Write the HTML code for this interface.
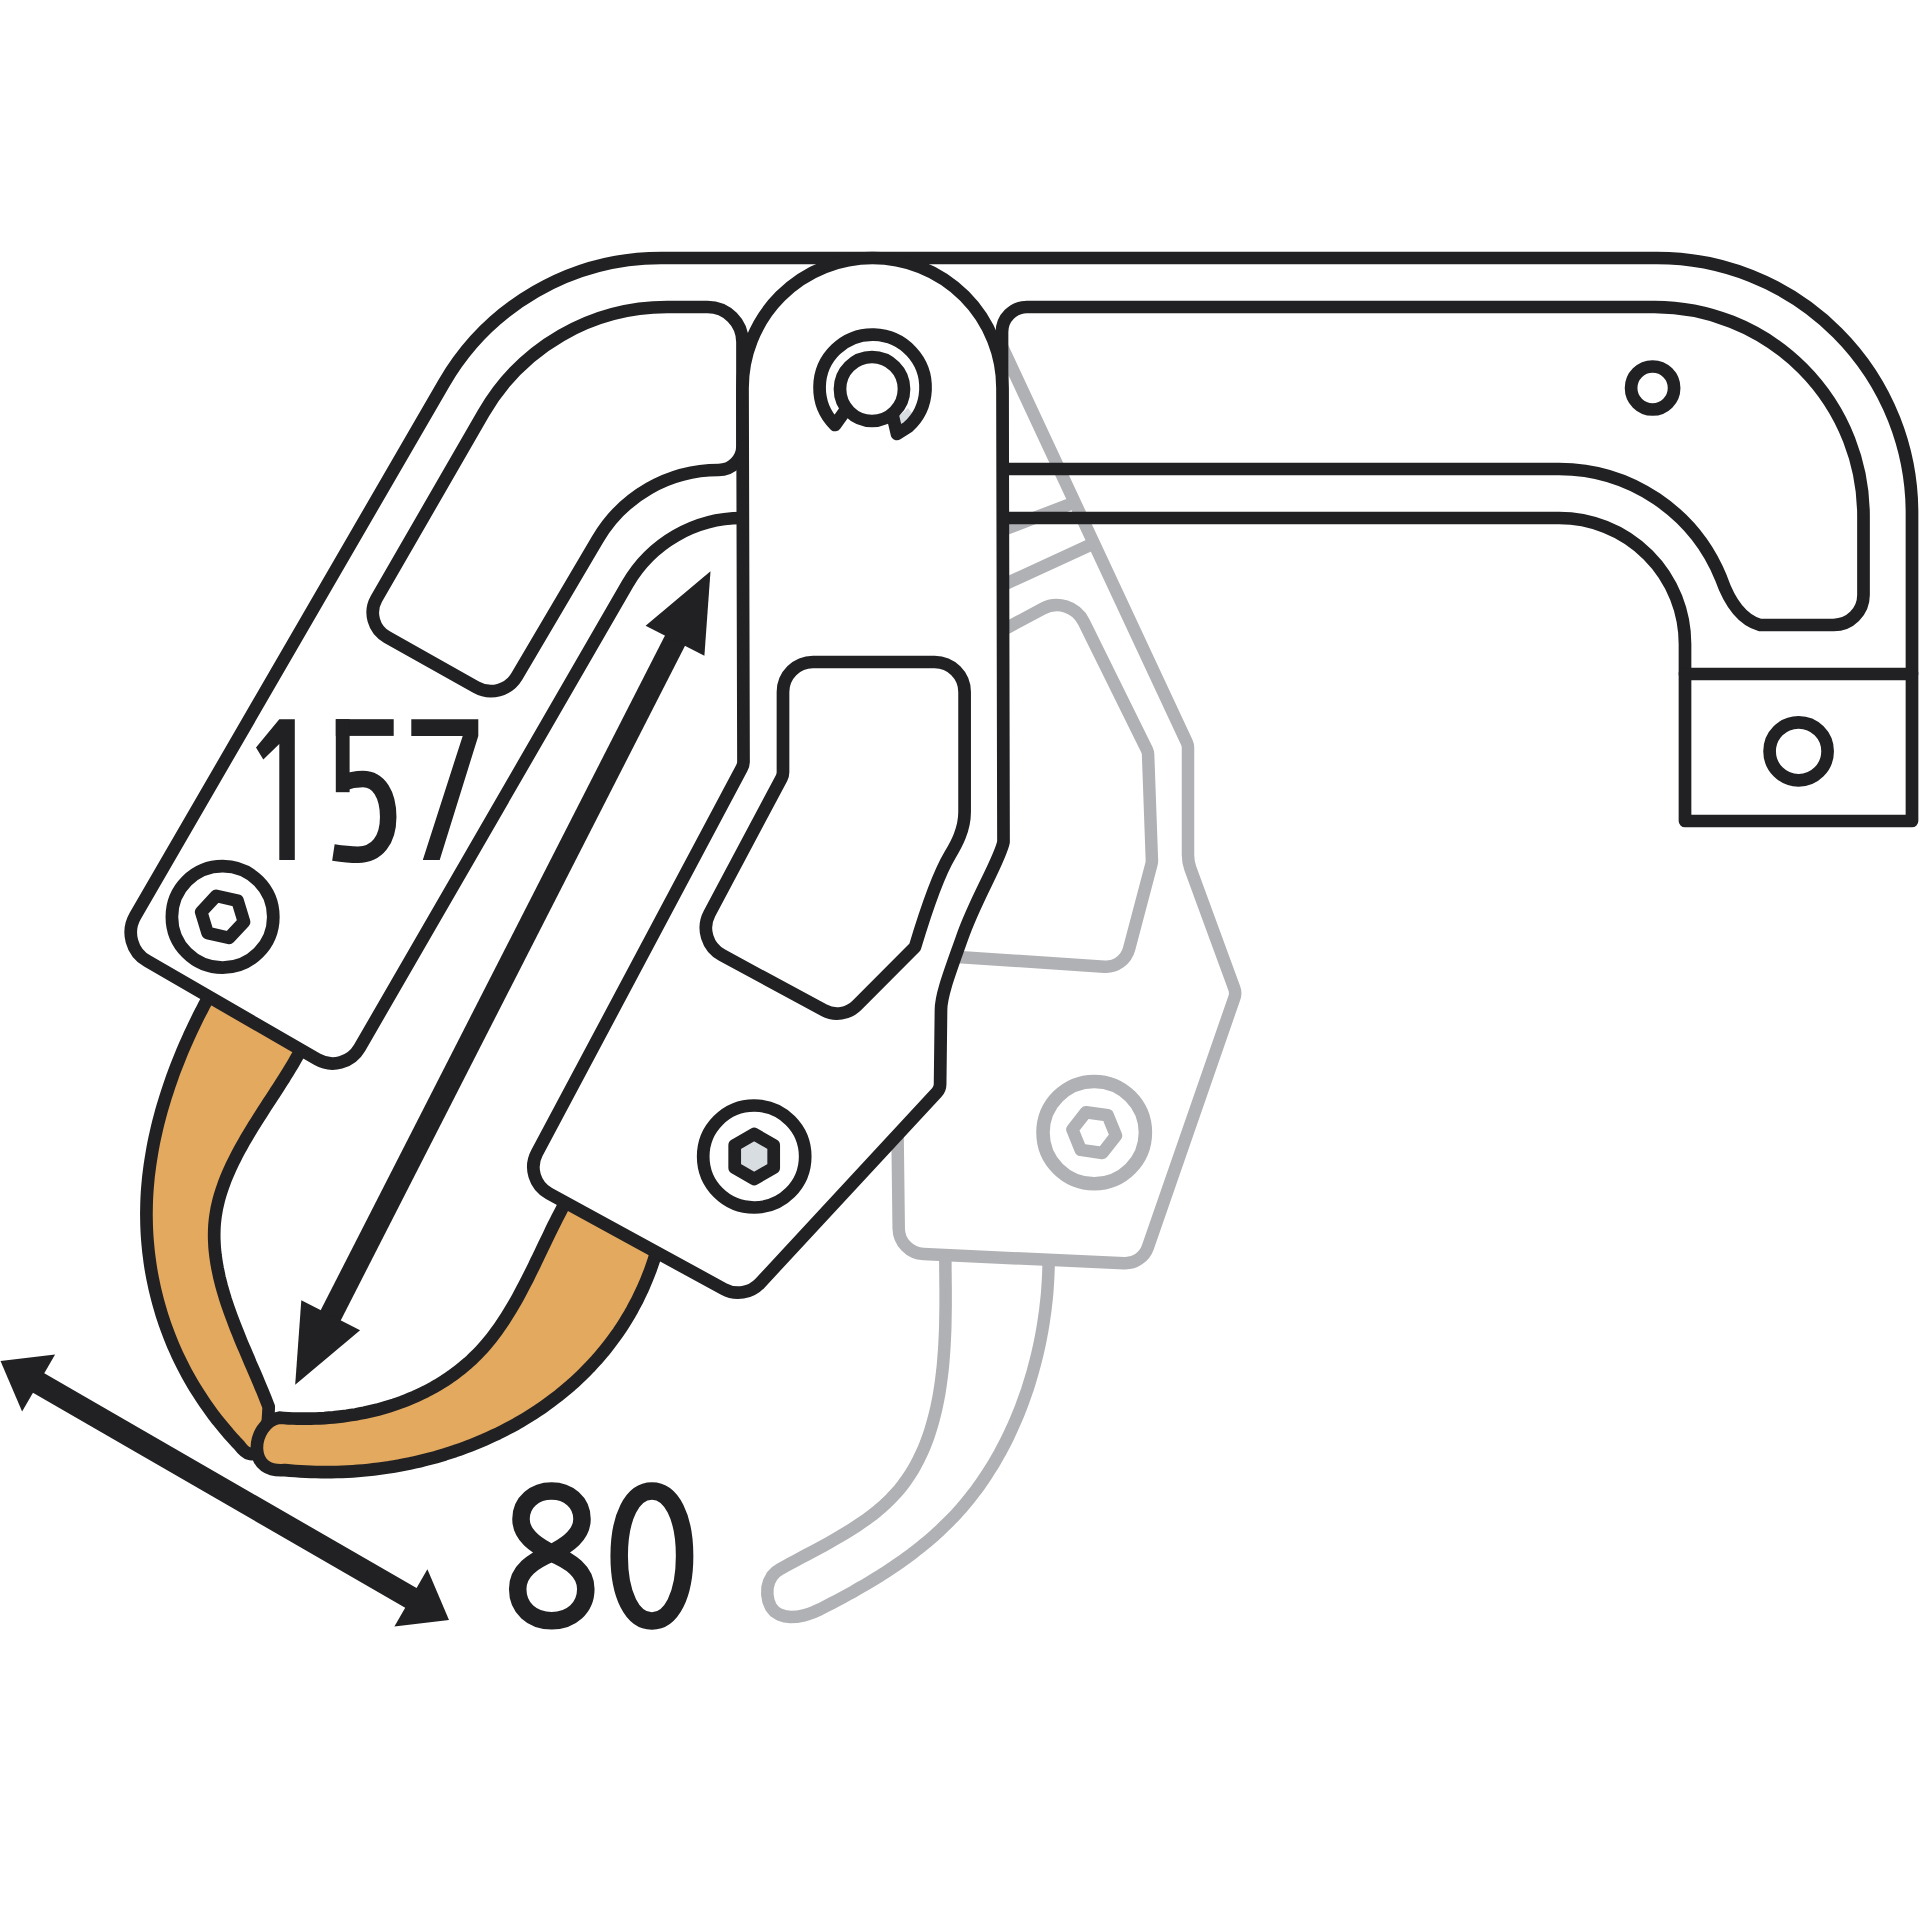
<!DOCTYPE html>
<html><head><meta charset="utf-8"><title>diagram</title><style>
html,body{margin:0;padding:0;background:#fff;width:1920px;height:1920px;overflow:hidden}
svg{display:block}
</style></head><body>
<svg xmlns="http://www.w3.org/2000/svg" width="1920" height="1920" viewBox="0 0 1920 1920"><path d="M215,985 L208.7,996.9 L206.1,1001.6 L203.6,1006.3 L201.2,1011.1 L198.7,1015.8 L196.3,1020.7 L194.0,1025.5 L191.7,1030.4 L189.4,1035.3 L187.2,1040.3 L185.0,1045.2 L182.8,1050.2 L180.7,1055.3 L178.7,1060.3 L176.7,1065.4 L174.7,1070.5 L172.8,1075.6 L171.0,1080.8 L169.2,1086.0 L167.5,1091.2 L165.8,1096.4 L164.2,1101.6 L162.6,1106.9 L161.1,1112.1 L159.7,1117.4 L158.3,1122.7 L157.0,1128.0 L155.8,1133.4 L154.6,1138.7 L153.5,1144.1 L152.5,1149.4 L151.6,1154.8 L150.7,1160.2 L149.9,1165.5 L149.2,1170.9 L148.5,1176.3 L148.0,1181.7 L147.5,1187.1 L147.1,1192.5 L146.8,1197.9 L146.6,1203.3 L146.5,1208.7 L146.4,1214.1 L146.5,1219.5 L146.6,1224.9 L146.8,1230.2 L147.1,1235.6 L147.5,1241.0 L148.0,1246.3 L148.5,1251.7 L149.2,1257.0 L149.9,1262.4 L150.7,1267.7 L151.6,1273.0 L152.6,1278.2 L153.7,1283.5 L154.8,1288.8 L156.1,1294.0 L157.4,1299.2 L158.8,1304.4 L160.3,1309.6 L161.8,1314.7 L163.5,1319.8 L165.2,1324.9 L167.1,1330.0 L169.0,1335.1 L171.0,1340.1 L173.0,1345.1 L175.2,1350.0 L177.4,1355.0 L179.8,1359.9 L182.2,1364.8 L184.7,1369.6 L187.2,1374.4 L189.9,1379.2 L192.6,1383.9 L195.5,1388.6 L198.4,1393.2 L201.4,1397.8 L204.4,1402.4 L207.6,1406.9 L210.8,1411.4 L214.1,1415.9 L217.5,1420.3 L221.0,1424.6 L224.6,1428.9 L228.2,1433.2 L231.9,1437.4 L235.7,1441.6 L239.6,1445.7 C245.6,1453.7 252,1458 261,1449 C267,1442 268,1425 268.7,1406.9 L268.7,1406.9 L267.2,1403.0 L265.7,1399.1 L264.1,1395.1 L262.5,1391.2 L260.8,1387.2 L259.1,1383.1 L257.4,1379.1 L255.7,1375.0 L253.9,1370.9 L252.1,1366.8 L250.3,1362.7 L248.6,1358.5 L246.8,1354.3 L245.0,1350.1 L243.2,1345.9 L241.4,1341.7 L239.7,1337.5 L238.0,1333.2 L236.3,1329.0 L234.6,1324.7 L233.0,1320.4 L231.4,1316.1 L229.8,1311.8 L228.3,1307.5 L226.8,1303.2 L225.4,1298.9 L224.1,1294.5 L222.8,1290.2 L221.6,1285.9 L220.5,1281.5 L219.4,1277.2 L218.5,1272.8 L217.6,1268.5 L216.8,1264.2 L216.1,1259.8 L215.5,1255.5 L215.0,1251.1 L214.6,1246.8 L214.4,1242.5 L214.2,1238.2 L214.2,1233.9 L214.3,1229.6 L214.5,1225.3 L214.9,1221.0 L215.4,1216.7 L216.1,1212.5 L216.8,1208.2 L217.8,1204.0 L218.8,1199.8 L220.0,1195.6 L221.3,1191.4 L222.7,1187.2 L224.2,1183.0 L225.8,1178.8 L227.5,1174.7 L229.3,1170.6 L231.2,1166.4 L233.2,1162.3 L235.2,1158.3 L237.3,1154.2 L239.5,1150.1 L241.7,1146.1 L244.0,1142.0 L246.3,1138.0 L248.7,1134.0 L251.1,1130.0 L253.5,1126.0 L256.0,1122.1 L258.5,1118.1 L261.0,1114.2 L263.5,1110.3 L266.0,1106.4 L268.5,1102.5 L271.0,1098.7 L273.6,1094.8 L276.0,1091.0 L278.5,1087.2 L280.9,1083.4 L283.4,1079.6 L285.7,1075.8 L288.0,1072.1 L290.3,1068.3 L292.6,1064.6 L294.7,1060.9 L296.8,1057.2 L298.9,1053.6 L300.8,1049.9 L302.7,1046.3 L304.5,1042.7 L312,1030 L280,1010 Z" fill="#e3a95e" stroke="#212124" stroke-width="12.7" stroke-linejoin="round"/>
<path d="M575,1190 L565.3,1202.8 L563.2,1206.4 L561.3,1210.2 L559.3,1214.0 L557.3,1217.8 L555.4,1221.6 L553.4,1225.5 L551.5,1229.4 L549.6,1233.4 L547.7,1237.4 L545.8,1241.3 L543.8,1245.3 L541.9,1249.4 L540.0,1253.4 L538.1,1257.4 L536.1,1261.4 L534.2,1265.5 L532.2,1269.5 L530.2,1273.5 L528.2,1277.6 L526.2,1281.6 L524.1,1285.5 L522.0,1289.5 L519.9,1293.5 L517.8,1297.4 L515.6,1301.3 L513.4,1305.1 L511.1,1309.0 L508.8,1312.8 L506.5,1316.5 L504.1,1320.2 L501.7,1323.9 L499.2,1327.5 L496.7,1331.0 L494.1,1334.5 L491.5,1338.0 L488.8,1341.3 L486.0,1344.6 L483.2,1347.9 L480.3,1351.0 L477.3,1354.1 L474.3,1357.1 L471.2,1360.1 L468.1,1362.9 L464.8,1365.7 L461.6,1368.4 L458.2,1371.0 L454.8,1373.6 L451.4,1376.1 L447.9,1378.5 L444.3,1380.9 L440.7,1383.1 L437.1,1385.3 L433.3,1387.5 L429.6,1389.5 L425.8,1391.5 L421.9,1393.4 L418.0,1395.2 L414.1,1397.0 L410.1,1398.7 L406.1,1400.3 L402.1,1401.9 L398.0,1403.4 L393.9,1404.8 L389.7,1406.1 L385.5,1407.4 L381.3,1408.6 L377.1,1409.8 L372.8,1410.8 L368.5,1411.8 L364.2,1412.8 L359.8,1413.6 L355.5,1414.4 L351.1,1415.1 L346.7,1415.8 L342.2,1416.4 L337.8,1416.9 L333.3,1417.4 L328.9,1417.7 L324.4,1418.1 L319.9,1418.3 L315.4,1418.5 L310.9,1418.6 L306.4,1418.7 L301.8,1418.7 L297.3,1418.6 L292.8,1418.5 L288.3,1418.3 L283.7,1418.0 L279.2,1417.7 C265.2,1419.7 256,1436 257,1450 C258,1464 268,1471.5 284.9,1470.1 L284.9,1470.1 L290.0,1470.6 L295.2,1471.0 L300.4,1471.4 L305.6,1471.7 L310.8,1471.9 L316.0,1472.0 L321.3,1472.1 L326.5,1472.2 L331.7,1472.1 L336.9,1472.0 L342.2,1471.8 L347.4,1471.6 L352.6,1471.3 L357.9,1470.9 L363.1,1470.5 L368.3,1470.0 L373.5,1469.4 L378.7,1468.7 L383.9,1468.0 L389.1,1467.3 L394.2,1466.4 L399.4,1465.5 L404.5,1464.5 L409.7,1463.5 L414.8,1462.4 L419.9,1461.2 L425.0,1459.9 L430.0,1458.6 L435.1,1457.3 L440.1,1455.8 L445.1,1454.3 L450.0,1452.7 L455.0,1451.1 L459.9,1449.4 L464.8,1447.6 L469.7,1445.8 L474.5,1443.9 L479.3,1441.9 L484.1,1439.9 L488.8,1437.8 L493.5,1435.6 L498.2,1433.4 L502.8,1431.1 L507.4,1428.7 L511.9,1426.3 L516.5,1423.8 L520.9,1421.2 L525.3,1418.6 L529.7,1415.9 L534.1,1413.1 L538.4,1410.3 L542.6,1407.4 L546.8,1404.4 L550.9,1401.4 L555.0,1398.3 L559.1,1395.2 L563.1,1391.9 L567.0,1388.6 L570.9,1385.3 L574.7,1381.9 L578.5,1378.4 L582.2,1374.9 L585.8,1371.2 L589.4,1367.6 L592.9,1363.8 L596.4,1360.0 L599.8,1356.1 L603.1,1352.2 L606.3,1348.2 L609.5,1344.1 L612.6,1340.0 L615.7,1335.8 L618.7,1331.6 L621.6,1327.2 L624.4,1322.8 L627.1,1318.4 L629.8,1313.9 L632.4,1309.3 L634.9,1304.6 L637.4,1299.9 L639.7,1295.1 L642.0,1290.3 L644.2,1285.4 L646.3,1280.4 L648.3,1275.4 L650.3,1270.3 L652.1,1265.1 L653.9,1259.9 L655.5,1254.6 L665,1240 L620,1215 Z" fill="#e3a95e" stroke="#212124" stroke-width="12.7" stroke-linejoin="round"/>
<path d="M147.3,961.1 L317.2,1059.3 A31.0,31.0 0 0 0 359.5,1048.0 L627.5,584.0 A132.0,132.0 0 0 1 741.8,518.0 L1559.0,518.0 A126.0,126.0 0 0 1 1685.0,644.0 L1685.0,821.0 L1912.0,821.0 L1912.0,513.0 A255.0,255.0 0 0 0 1657.0,258.0 L661.0,258.0 A251.0,251.0 0 0 0 443.9,383.2 L135.2,916.0 A33.0,33.0 0 0 0 147.3,961.1 Z" fill="#fff" stroke="none"/>
<path d="M998.0,338.0 L1186.9,742.6 A12.0,12.0 0 0 1 1188.0,747.7 L1188.0,854.9 A40.0,40.0 0 0 0 1190.4,868.7 L1234.3,988.3 A14.0,14.0 0 0 1 1234.4,997.7 L1147.9,1247.1 A24.0,24.0 0 0 1 1124.1,1263.2 L923.5,1254.1 A26.0,26.0 0 0 1 898.7,1228.5 L897.0,1090.0" fill="none" stroke="#b0b1b4" stroke-width="12.5" stroke-linejoin="round" stroke-linecap="round"/>
<path d="M1003.0,630.0 L1042.6,608.7 A30.0,30.0 0 0 1 1083.7,621.8 L1146.9,749.7 A12.0,12.0 0 0 1 1148.1,754.6 L1151.9,859.9 A14.0,14.0 0 0 1 1151.5,864.0 L1129.1,948.9 A24.0,24.0 0 0 1 1104.3,966.7 L958.0,957.0" fill="none" stroke="#b0b1b4" stroke-width="12.5" stroke-linejoin="round" stroke-linecap="round"/>
<path d="M1003,530 L1068,505 M1003,585 L1088,546" fill="none" stroke="#b0b1b4" stroke-width="12.5" stroke-linejoin="round" stroke-linecap="round"/>
<path d="M945.3,1258.7 L945.4,1264.4 L945.4,1270.3 L945.5,1276.2 L945.5,1282.2 L945.6,1288.2 L945.6,1294.3 L945.6,1300.5 L945.6,1306.7 L945.5,1312.9 L945.4,1319.2 L945.3,1325.5 L945.1,1331.8 L944.8,1338.2 L944.5,1344.5 L944.1,1350.8 L943.6,1357.2 L943.1,1363.5 L942.5,1369.9 L941.7,1376.2 L940.9,1382.5 L940.0,1388.7 L939.0,1394.9 L937.8,1401.1 L936.5,1407.3 L935.1,1413.3 L933.6,1419.3 L931.9,1425.3 L930.1,1431.2 L928.2,1437.0 L926.1,1442.7 L923.8,1448.4 L921.3,1453.9 L918.7,1459.3 L915.9,1464.7 L913.0,1469.9 L909.8,1475.0 L906.4,1480.0 L902.9,1484.8 L899.1,1489.6 L895.1,1494.1 L890.9,1498.6 L886.5,1502.9 L882.0,1507.0 L877.2,1511.1 L872.3,1515.0 L867.2,1518.8 L862.0,1522.4 L856.7,1526.0 L851.3,1529.5 L845.8,1532.9 L840.3,1536.2 L834.7,1539.4 L829.2,1542.6 L823.6,1545.7 L818.0,1548.7 L812.4,1551.7 L806.9,1554.6 L801.4,1557.5 L796.0,1560.4 L790.7,1563.2 L785.5,1566.1 L780.4,1568.9 L775.7,1572.1 L771.9,1576.3 L769.1,1581.6 L767.5,1587.7 L767.3,1594.4 L768.5,1601.1 L770.9,1607.0 L774.6,1611.5 L779.3,1614.5 L784.7,1616.3 L790.6,1617.0 L796.7,1616.8 L802.7,1615.7 L808.6,1614.0 L814.4,1611.8 L820.1,1609.2 L825.8,1606.3 L831.4,1603.4 L837.0,1600.5 L842.6,1597.5 L848.2,1594.4 L853.7,1591.4 L859.1,1588.2 L864.6,1585.1 L870.0,1581.9 L875.3,1578.6 L880.7,1575.3 L885.9,1571.9 L891.1,1568.5 L896.3,1565.0 L901.4,1561.5 L906.4,1557.9 L911.4,1554.2 L916.3,1550.4 L921.1,1546.6 L925.9,1542.7 L930.6,1538.7 L935.2,1534.7 L939.7,1530.6 L944.1,1526.3 L948.5,1522.0 L952.8,1517.7 L957.0,1513.2 L961.1,1508.6 L965.0,1504.0 L968.9,1499.2 L972.7,1494.4 L976.5,1489.5 L980.1,1484.5 L983.6,1479.4 L987.0,1474.3 L990.3,1469.0 L993.6,1463.8 L996.7,1458.4 L999.8,1453.0 L1002.7,1447.5 L1005.6,1442.0 L1008.4,1436.4 L1011.0,1430.7 L1013.6,1425.0 L1016.1,1419.3 L1018.5,1413.5 L1020.8,1407.7 L1023.0,1401.8 L1025.1,1395.9 L1027.2,1390.0 L1029.1,1384.0 L1030.9,1378.0 L1032.7,1372.0 L1034.3,1365.9 L1035.9,1359.9 L1037.4,1353.8 L1038.8,1347.7 L1040.1,1341.6 L1041.3,1335.4 L1042.4,1329.3 L1043.4,1323.2 L1044.3,1317.1 L1045.2,1310.9 L1045.9,1304.8 L1046.6,1298.7 L1047.2,1292.6 L1047.6,1286.5 L1048.0,1280.4 L1048.3,1274.4 L1048.5,1268.4 L1048.7,1262.3" fill="none" stroke="#b0b1b4" stroke-width="12.5" stroke-linejoin="round" stroke-linecap="round"/>
<circle cx="1094.2" cy="1132.6" r="51.2" fill="none" stroke="#b0b1b4" stroke-linejoin="round" stroke-linecap="round" stroke-width="13.5"/>
<polygon points="1116.0,1135.7 1102.4,1153.0 1080.7,1149.9 1072.4,1129.5 1086.0,1112.2 1107.7,1115.3" fill="none" stroke="#b0b1b4" stroke-width="12.5" stroke-linejoin="round" stroke-linecap="round"/>
<path d="M147.3,961.1 L317.2,1059.3 A31.0,31.0 0 0 0 359.5,1048.0 L627.5,584.0 A132.0,132.0 0 0 1 741.8,518.0 L1559.0,518.0 A126.0,126.0 0 0 1 1685.0,644.0 L1685.0,821.0 L1912.0,821.0 L1912.0,513.0 A255.0,255.0 0 0 0 1657.0,258.0 L661.0,258.0 A251.0,251.0 0 0 0 443.9,383.2 L135.2,916.0 A33.0,33.0 0 0 0 147.3,961.1 Z" fill="none" stroke="#212124" stroke-width="12.7" stroke-linejoin="round" stroke-linecap="round"/>
<path d="M1685,674 L1912,674" fill="none" stroke="#212124" stroke-width="12.7" stroke-linejoin="round" stroke-linecap="round"/>
<path d="M667.2,307.0 L707.5,307.0 A35.0,35.0 0 0 1 742.5,342.0 L742.5,446.0 A24.0,24.0 0 0 1 718.5,470.0 L718.4,470.0 A140.0,140.0 0 0 0 597.8,539.0 L516.9,676.3 A30.0,30.0 0 0 1 476.3,687.2 L387.1,637.1 A28.0,28.0 0 0 1 376.5,598.7 L483.5,413.1 A212.0,212.0 0 0 1 667.2,307.0 Z" fill="none" stroke="#212124" stroke-width="12.7" stroke-linejoin="round" stroke-linecap="round"/>
<path d="M1002,469 L1559,469 A175,175 0 0 1 1721,578 Q1735,618 1760,625 L1833,625 A30,30 0 0 0 1863.5,595 L1863.5,517 A209,209 0 0 0 1654.5,307 L1027,307 A25,25 0 0 0 1002,332 Z" fill="none" stroke="#212124" stroke-width="12.7" stroke-linejoin="round" stroke-linecap="round"/>
<circle cx="1652.6" cy="388" r="21.5" fill="none" stroke="#212124" stroke-width="12.7" stroke-linejoin="round" stroke-linecap="round"/>
<circle cx="1798.6" cy="751.3" r="29" fill="none" stroke="#212124" stroke-width="12.7" stroke-linejoin="round" stroke-linecap="round"/>
<circle cx="222.6" cy="916.9" r="50.7" fill="none" stroke="#212124" stroke-width="12.7" stroke-linejoin="round" stroke-linecap="round"/>
<polygon points="216.2,895.9 237.6,900.8 244.0,921.8 229.0,937.9 207.6,933.0 201.2,912.0" fill="none" stroke="#212124" stroke-width="12.7" stroke-linejoin="round" stroke-linecap="round"/>
<path d="M742.5,388 A130,130 0 0 1 1002.5,388 L1003.5,842 C1000,860 975,900 962,938 C950,972 941,995 941,1010 L941.0,1010.0 L940.1,1084.4 A12.0,12.0 0 0 1 936.9,1092.4 L760.1,1283.1 A30.0,30.0 0 0 1 723.7,1289.0 L549.0,1193.5 A30.0,30.0 0 0 1 536.9,1153.1 L741.8,768.1 A14.0,14.0 0 0 0 743.5,761.5 L742.5,388.0 Z" fill="#fff" stroke="#212124" stroke-width="12.7" stroke-linejoin="round"/>
<path d="M783,692 A30,30 0 0 1 813,662 L934.6,662 A30,30 0 0 1 964.6,692 L964.6,812 C964.6,830 956,845 950,855 C938,875 924,917 915,947 L915.0,947.0 L857.0,1005.3 A28.0,28.0 0 0 1 823.8,1010.2 L722.1,955.2 A31.0,31.0 0 0 1 709.5,913.4 L781.6,777.9 A12.0,12.0 0 0 0 783.0,772.3 L783.0,692.0 Z" fill="none" stroke="#212124" stroke-width="12.7" stroke-linejoin="round" stroke-linecap="round"/>
<circle cx="754.2" cy="1156.5" r="51" fill="none" stroke="#212124" stroke-width="12.7" stroke-linejoin="round" stroke-linecap="round"/>
<polygon points="754.2,1134.0 773.7,1145.2 773.7,1167.8 754.2,1179.0 734.7,1167.8 734.7,1145.2" fill="#d8dde2" stroke="#212124" stroke-width="12.7" stroke-linejoin="round"/>
<polygon points="898,417 908,408 912,413 901,428" fill="#d8dde2"/>
<path d="M845,411 L835,425 A53,53 0 1 1 908,427 L897,434 L893,417" fill="none" stroke="#212124" stroke-width="12.7" stroke-linejoin="round" stroke-linecap="round"/>
<circle cx="872" cy="389" r="32" fill="none" stroke="#212124" stroke-width="12.7" stroke-linejoin="round" stroke-linecap="round"/>
<line x1="675.9" y1="638.9" x2="329.8" y2="1317.1" stroke="#212124" stroke-width="22.5"/><polygon points="710.5,571.2 645.6,625.7 704.4,655.7" fill="#212124"/><polygon points="295.2,1384.8 360.1,1330.3 301.3,1300.3" fill="#212124"/>
<line x1="36.9" y1="1382.0" x2="412.6" y2="1598.9" stroke="#212124" stroke-width="22.7"/><polygon points="0.5,1361.0 22.1,1411.6 55.1,1354.4" fill="#212124"/><polygon points="449.0,1619.9 427.4,1569.3 394.4,1626.5" fill="#212124"/>
<polygon points="279.3,719.2 294.8,719.2 294.8,860 279.3,860 279.3,744 263.3,759.6 256,747.4" fill="#212124"/>
<rect x="335.8" y="719.2" width="57.9" height="16.7" fill="#212124"/>
<rect x="335.8" y="719.2" width="13.8" height="73" fill="#212124"/>
<path d="M342,783 C350,780 355,779 363,779 C379,779 388.2,795 388.2,817 C388.2,840 377,854.7 358,854.7 C348,854.7 340,853.5 333.4,852.5" fill="none" stroke="#212124" stroke-width="16.5"/>
<polygon points="411.3,719.2 478.3,719.2 478.3,735.9 439.7,860 422.8,860 462.7,735.9 411.3,735.9" fill="#212124"/>
<path d="M551.5,1553 C568,1545 582,1535 582,1519 C582,1502 568,1491 551.5,1491 C535,1491 521,1502 521,1519 C521,1535 535,1545 551.5,1553 C570,1561 585.8,1571 585.8,1589 C585.8,1608 571,1620.8 551.7,1620.8 C532,1620.8 517.7,1608 517.7,1589 C517.7,1571 533,1561 551.5,1553 Z" fill="none" stroke="#212124" stroke-width="17.5" stroke-linejoin="round"/>
<path d="M651.9,1491 C671.5,1491 684.6,1517 684.6,1556 C684.6,1595 671.5,1621 651.9,1621 C632.3,1621 619.2,1595 619.2,1556 C619.2,1517 632.3,1491 651.9,1491 Z" fill="none" stroke="#212124" stroke-width="17.5"/></svg>
</body></html>
